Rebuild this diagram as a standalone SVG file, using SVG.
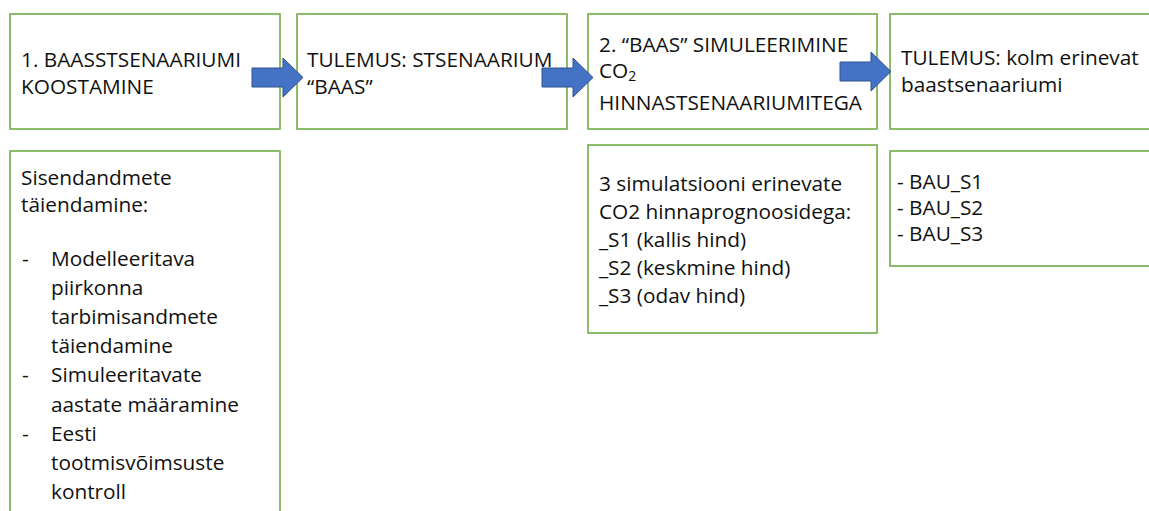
<svg xmlns="http://www.w3.org/2000/svg" width="1149" height="511" viewBox="0 0 1149 511">
<style>
.box{fill:#fff;stroke:#70AD47;stroke-width:1.6}
.t{font-family:"Open Sans","Liberation Sans",sans-serif;font-size:20.8px;fill:#111}
.arrow{fill:#4472C4;stroke:#2F528F;stroke-width:1}
</style>
<defs>
<path id="blockArrow" d="M0,-9.5 H31 V-19.5 L51,0 L31,19.5 V9.5 H0 Z"/>
</defs>
<rect width="1149" height="511" fill="#fff"/>
<g id="n1">
<rect class="box" x="10" y="14" width="270" height="115"/>
<text class="t" x="21" y="67">1. BAASSTSENAARIUMI</text>
<text class="t" x="21" y="94">KOOSTAMINE</text>
</g>
<g id="n2">
<rect class="box" x="297" y="14" width="270" height="115"/>
<text class="t" x="307" y="67">TULEMUS: STSENAARIUM</text>
<text class="t" x="307" y="94">“BAAS”</text>
</g>
<g id="n3">
<rect class="box" x="588" y="14" width="289" height="115"/>
<text class="t" x="599" y="52">2. “BAAS” SIMULEERIMINE</text>
<text class="t" x="599" y="78">CO<tspan font-size="14" dy="3">2</tspan></text>
<text class="t" x="599" y="110">HINNASTSENAARIUMITEGA</text>
</g>
<g id="n4">
<rect class="box" x="890" y="14" width="270" height="115"/>
<text class="t" x="901" y="65">TULEMUS: kolm erinevat</text>
<text class="t" x="901" y="92">baastsenaariumi</text>
</g>
<g id="n5">
<rect class="box" x="10" y="151" width="270" height="370"/>
<text class="t" x="21" y="185">Sisendandmete</text>
<text class="t" x="21" y="212">täiendamine:</text>
<text class="t" x="22" y="266">-</text>
<text class="t" x="51" y="266">Modelleeritava</text>
<text class="t" x="51" y="295">piirkonna</text>
<text class="t" x="51" y="324">tarbimisandmete</text>
<text class="t" x="51" y="353">täiendamine</text>
<text class="t" x="22" y="382">-</text>
<text class="t" x="51" y="382">Simuleeritavate</text>
<text class="t" x="51" y="412">aastate määramine</text>
<text class="t" x="22" y="441">-</text>
<text class="t" x="51" y="441">Eesti</text>
<text class="t" x="51" y="470">tootmisvõimsuste</text>
<text class="t" x="51" y="499">kontroll</text>
</g>
<g id="n6">
<rect class="box" x="588" y="145" width="289" height="188"/>
<text class="t" x="599" y="191">3 simulatsiooni erinevate</text>
<text class="t" x="599" y="219">CO2 hinnaprognoosidega:</text>
<text class="t" x="599" y="247">_S1 (kallis hind)</text>
<text class="t" x="599" y="275">_S2 (keskmine hind)</text>
<text class="t" x="599" y="303">_S3 (odav hind)</text>
</g>
<g id="n7">
<rect class="box" x="890" y="151" width="270" height="115"/>
<text class="t" x="897" y="189">- BAU_S1</text>
<text class="t" x="897" y="215">- BAU_S2</text>
<text class="t" x="897" y="241">- BAU_S3</text>
</g>
<g id="connectors">
<use href="#blockArrow" class="arrow" transform="translate(252,77.5)"/>
<use href="#blockArrow" class="arrow" transform="translate(542,77.5)"/>
<use href="#blockArrow" class="arrow" transform="translate(840,71.5)"/>
</g>
</svg>
